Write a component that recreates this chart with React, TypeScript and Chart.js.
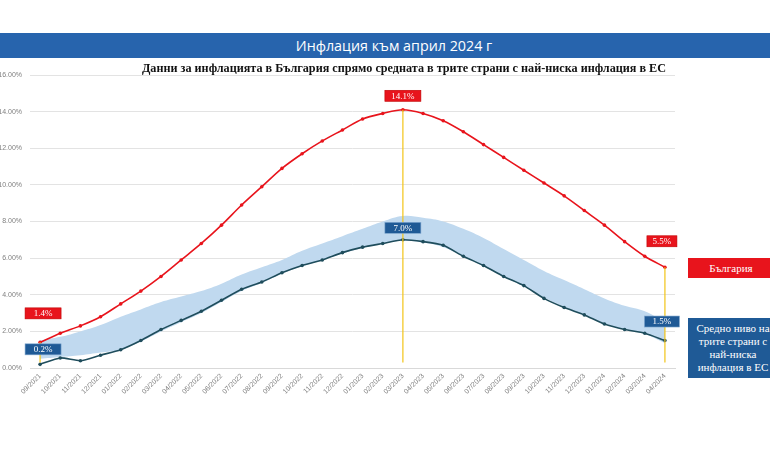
import React, { useEffect, useRef } from "react";
import { Chart, registerables } from "chart.js";

Chart.register(...registerables);

const categories = [
  "09/2021", "10/2021", "11/2021", "12/2021",
  "01/2022", "02/2022", "03/2022", "04/2022", "05/2022", "06/2022",
  "07/2022", "08/2022", "09/2022", "10/2022", "11/2022", "12/2022",
  "01/2023", "02/2023", "03/2023", "04/2023", "05/2023", "06/2023",
  "07/2023", "08/2023", "09/2023", "10/2023", "11/2023", "12/2023",
  "01/2024", "02/2024", "03/2024", "04/2024",
];

const bulgaria = [
  1.4, 1.9, 2.3, 2.8, 3.5, 4.2, 5.0, 5.9, 6.8, 7.8, 8.9, 9.9, 10.9, 11.7,
  12.4, 13.0, 13.6, 13.9, 14.1, 13.9, 13.5, 12.9, 12.2, 11.5, 10.8, 10.1,
  9.4, 8.6, 7.8, 6.9, 6.1, 5.5,
];

const euLowest = [
  0.2, 0.55, 0.4, 0.7, 1.0, 1.5, 2.1, 2.6, 3.1, 3.7, 4.3, 4.7, 5.2, 5.6,
  5.9, 6.3, 6.6, 6.8, 7.0, 6.9, 6.7, 6.1, 5.6, 5.0, 4.5, 3.8, 3.3, 2.9,
  2.4, 2.1, 1.9, 1.5,
];

const bandTop = [
  1.5, 1.7, 2.0, 2.35, 2.8, 3.2, 3.6, 3.9, 4.2, 4.6, 5.1, 5.5, 5.9, 6.4,
  6.8, 7.2, 7.6, 8.0, 8.3, 8.2, 8.0, 7.6, 7.1, 6.5, 5.9, 5.3, 4.8, 4.3,
  3.8, 3.4, 3.1, 2.5,
];

const bandBottom = [
  0.5, 0.6, 0.7, 0.85, 1.0, 1.45, 2.0, 2.5, 3.0, 3.6, 4.2, 4.65, 5.15, 5.55,
  5.9, 6.25, 6.55, 6.8, 6.95, 6.85, 6.6, 6.1, 5.55, 5.0, 4.45, 3.85, 3.35,
  2.9, 2.45, 2.1, 1.85, 1.35,
];

const yTicks = [0, 2, 4, 6, 8, 10, 12, 14, 16];

const markerIndexes = [0, 18, 31];

const TITLE = "Инфлация към април 2024 г";
const SUBTITLE =
  "Данни за инфлацията в България спрямо средната в трите страни с най-ниска инфлация в ЕС";
const LEGEND_BG = "България";
const LEGEND_EU = ["Средно ниво на", "трите страни с", "най-ниска", "инфлация в ЕС"];

const RED = "#e8141c";
const DARK = "#1f4d5c";
const BOXBLUE = "#1f5a96";
const YELLOW = "#f2c417";

const labelOffsets: { series: 0 | 1; index: number; dy: number; w: number }[] = [
  { series: 0, index: 0, dy: -29, w: 36 },
  { series: 1, index: 0, dy: -15, w: 36 },
  { series: 0, index: 18, dy: -14, w: 36 },
  { series: 1, index: 18, dy: -12, w: 36 },
  { series: 0, index: 31, dy: -26, w: 30 },
  { series: 1, index: 31, dy: -19, w: 35 },
];

const annotationPlugin = {
  id: "annotations",
  afterDatasetsDraw(chart: any) {
    const ctx = chart.ctx;
    const x = chart.scales.x;
    const y = chart.scales.y;
    ctx.save();
    ctx.strokeStyle = YELLOW;
    ctx.lineWidth = 1.2;
    for (const i of markerIndexes) {
      const px = x.getPixelForValue(i);
      ctx.beginPath();
      ctx.moveTo(px, y.getPixelForValue(bulgaria[i]));
      ctx.lineTo(px, y.getPixelForValue(0.3));
      ctx.stroke();
    }
    ctx.font = "9px 'Liberation Serif', serif";
    ctx.textAlign = "center";
    ctx.textBaseline = "middle";
    for (const l of labelOffsets) {
      const vals = l.series === 0 ? bulgaria : euLowest;
      const px = x.getPixelForValue(l.index);
      const py = y.getPixelForValue(vals[l.index]) + l.dy;
      const cx = l.index === 0 ? px + 3 : l.index === 31 ? px - 3 : px;
      const h = 11;
      ctx.fillStyle = l.series === 0 ? RED : BOXBLUE;
      ctx.fillRect(cx - l.w / 2, py - h / 2, l.w, h);
      ctx.strokeStyle = l.series === 0 ? "#c00000" : "#7fa7cf";
      ctx.lineWidth = 0.6;
      ctx.strokeRect(cx - l.w / 2, py - h / 2, l.w, h);
      ctx.fillStyle = "#ffffff";
      ctx.fillText(vals[l.index].toFixed(1) + "%", cx, py + 0.5);
    }
    ctx.restore();
  },
};

export default function App() {
  const ref = useRef<HTMLCanvasElement>(null);

  useEffect(() => {
    if (!ref.current) return;
    const chart = new Chart(ref.current, {
      type: "line",
      data: {
        labels: categories,
        datasets: [
          {
            label: "bandBottom",
            data: bandBottom,
            borderWidth: 0,
            pointRadius: 0,
            fill: false,
            tension: 0.4,
            order: 10,
          },
          {
            label: "band",
            data: bandTop,
            borderWidth: 0,
            pointRadius: 0,
            backgroundColor: "#c0d9ef",
            fill: "-1",
            tension: 0.4,
            order: 9,
          },
          {
            label: "България",
            data: bulgaria,
            borderColor: RED,
            backgroundColor: RED,
            borderWidth: 1.6,
            pointRadius: 1.8,
            pointBorderWidth: 0,
            tension: 0.3,
            fill: false,
            order: 1,
          },
          {
            label: "ЕС",
            data: euLowest,
            borderColor: DARK,
            backgroundColor: DARK,
            borderWidth: 1.6,
            pointRadius: 1.8,
            pointBorderWidth: 0,
            tension: 0.2,
            fill: false,
            order: 2,
          },
        ],
      },
      options: {
        responsive: false,
        animation: false,
        layout: { padding: { top: 75, right: 95, left: 0, bottom: 54 } },
        plugins: {
          legend: { display: false },
          tooltip: { enabled: false },
          title: { display: false },
        },
        scales: {
          x: {
            offset: true,
            grid: { display: false, drawTicks: false },
            border: { color: "#d9d9d9" },
            ticks: {
              minRotation: 45,
              maxRotation: 45,
              autoSkip: false,
              padding: 4,
              color: "#808080",
              font: { size: 7, family: "'Liberation Sans', sans-serif" },
            },
            afterFit: (s: any) => {
              s.height = 40;
            },
          },
          y: {
            min: 0,
            max: 16,
            afterBuildTicks: (s: any) => {
              s.ticks = yTicks.map((v) => ({ value: v }));
            },
            grid: { color: "#e3e3e3", drawTicks: false },
            border: { display: false },
            ticks: {
              padding: 8,
              color: "#808080",
              font: { size: 7, family: "'Liberation Sans', sans-serif" },
              callback: (v: any) => Number(v).toFixed(2) + "%",
            },
            afterFit: (s: any) => {
              s.width = 30;
            },
          },
        },
      },
      plugins: [annotationPlugin],
    });
    return () => chart.destroy();
  }, []);

  return (
    <div
      style={{
        position: "absolute",
        left: 0,
        top: 0,
        width: 770,
        height: 462,
        background: "#ffffff",
        overflow: "hidden",
      }}
    >
      <canvas
        ref={ref}
        width={770}
        height={462}
        style={{ position: "absolute", left: 0, top: 0, width: 770, height: 462 }}
      />
      <div
        style={{
          position: "absolute",
          left: 0,
          top: 33,
          width: 770,
          height: 25,
          background: "#2764ad",
          color: "#ffffff",
          fontFamily: "'Open Sans', sans-serif",
          fontSize: 14.3,
          lineHeight: "25px",
          textAlign: "center",
          paddingLeft: 18,
          boxSizing: "border-box",
        }}
      >
        {TITLE}
      </div>
      <div
        style={{
          position: "absolute",
          left: 0,
          top: 59,
          width: 770,
          paddingLeft: 38,
          boxSizing: "border-box",
          textAlign: "center",
          fontFamily: "'Liberation Serif', serif",
          fontWeight: "bold",
          fontSize: 12.2,
          lineHeight: "18px",
          color: "#111111",
        }}
      >
        {SUBTITLE}
      </div>
      <div
        style={{
          position: "absolute",
          left: 688,
          top: 258,
          width: 86,
          height: 20,
          background: RED,
          color: "#ffffff",
          fontFamily: "'Liberation Serif', serif",
          fontWeight: "normal",
          fontSize: 11,
          lineHeight: "20px",
          textAlign: "center",
        }}
      >
        {LEGEND_BG}
      </div>
      <div
        style={{
          position: "absolute",
          left: 688,
          top: 318,
          width: 90,
          height: 60,
          background: BOXBLUE,
          color: "#ffffff",
          fontFamily: "'Liberation Serif', serif",
          fontWeight: "normal",
          fontSize: 11,
          lineHeight: "13px",
          textAlign: "center",
          paddingTop: 4,
          boxSizing: "border-box",
        }}
      >
        {LEGEND_EU.map((t, i) => (
          <div key={i}>{t}</div>
        ))}
      </div>
    </div>
  );
}
